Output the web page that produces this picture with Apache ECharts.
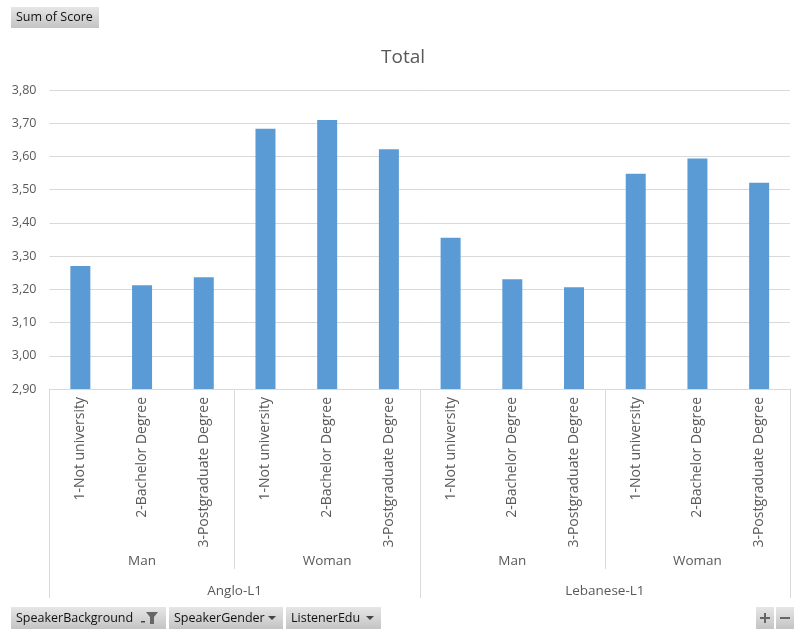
<!DOCTYPE html>
<html><head><meta charset="utf-8">
<script src="https://cdn.jsdelivr.net/npm/echarts@6/dist/echarts.min.js"></script>
<style>html,body{margin:0;padding:0;background:#fff}#c{width:806px;height:637px}</style>
</head><body><div id="c"></div>
<script>
const eduLabels = ['1-Not university','2-Bachelor Degree','3-Postgraduate Degree','1-Not university','2-Bachelor Degree','3-Postgraduate Degree','1-Not university','2-Bachelor Degree','3-Postgraduate Degree','1-Not university','2-Bachelor Degree','3-Postgraduate Degree'];
const genderLabels = ['Man','Woman','Man','Woman'];
const backgroundLabels = ['Anglo-L1','Lebanese-L1'];
const scores = [3.270, 3.212, 3.236, 3.683, 3.710, 3.622, 3.355, 3.230, 3.206, 3.548, 3.594, 3.521];
const yTicks = {min: 2.9, max: 3.8, interval: 0.1};
const titleText = 'Total';

const FONT = '"Open Sans", "Noto Sans", sans-serif';
const TXT = '#595959';
const LINE = '#D9D9D9';

function btnGrad(){
  return new echarts.graphic.LinearGradient(0,0,0,1,[{offset:0,color:'#E6E6E6'},{offset:1,color:'#C4C4C4'}]);
}
function button(x,y,w,h,text){
  return {type:'group', children:[
    {type:'rect', shape:{x:x,y:y,width:w,height:h}, style:{fill:btnGrad()}},
    {type:'text', style:{x:x+5,y:y+h/2,text:text,font:'12.5px '+FONT,fill:'#111',verticalAlign:'middle'}}
  ]};
}
function tri(cx,cy){
  return {type:'polygon', shape:{points:[[cx-4,cy-2],[cx+4,cy-2],[cx,cy+2]]}, style:{fill:'#444'}};
}

const chart = echarts.init(document.getElementById('c'), null, {renderer:'canvas'});
chart.setOption({
  animation:false,
  title:{text:titleText, left:'center', top:43, textStyle:{fontFamily:FONT, fontSize:19, fontWeight:'normal', color:TXT}},
  grid:{left:49.5, right:16, top:90, bottom:248, containLabel:false},
  yAxis:{type:'value', min:yTicks.min, max:yTicks.max, interval:yTicks.interval,
    axisLine:{show:false}, axisTick:{show:false},
    axisLabel:{margin:13, fontFamily:FONT, fontSize:12.5, color:TXT, formatter:v=>v.toFixed(2).replace('.',',')},
    splitLine:{lineStyle:{color:LINE, width:1}}},
  xAxis:[
    {type:'category', data:eduLabels, position:'bottom',
      axisLine:{lineStyle:{color:LINE}}, axisTick:{show:false},
      axisLabel:{rotate:90, margin:8, interval:0, fontFamily:FONT, fontSize:14, color:TXT}},
    {type:'category', data:genderLabels, position:'bottom',
      axisLine:{show:false}, axisTick:{show:true, length:180, lineStyle:{color:LINE}},
      axisLabel:{margin:165, interval:0, fontFamily:FONT, fontSize:13.5, color:TXT, verticalAlign:'top'}},
    {type:'category', data:backgroundLabels, position:'bottom',
      axisLine:{show:false}, axisTick:{show:true, length:209, lineStyle:{color:LINE}},
      axisLabel:{margin:195, interval:0, fontFamily:FONT, fontSize:13.5, color:TXT, verticalAlign:'top'}}
  ],
  series:[{type:'bar', xAxisIndex:0, data:scores, barWidth:20, itemStyle:{color:'#5B9BD5'}}],
  graphic:[
    button(11,7,88,21,'Sum of Score'),
    button(11,607,155,22,'SpeakerBackground'),
    {type:'polygon', shape:{points:[[146,612],[158,612],[154,617],[154,624],[150,624],[150,617]]}, style:{fill:'#666'}},
    {type:'rect', shape:{x:141,y:621,width:4,height:1.5}, style:{fill:'#444'}},
    button(169,607,114,22,'SpeakerGender'),
    tri(272,618),
    button(286,607,95,22,'ListenerEdu'),
    tri(370,618),
    {type:'rect', shape:{x:756,y:607,width:18,height:22}, style:{fill:btnGrad()}},
    {type:'rect', shape:{x:760,y:617,width:10,height:2}, style:{fill:'#666'}},
    {type:'rect', shape:{x:764,y:613,width:2,height:10}, style:{fill:'#666'}},
    {type:'rect', shape:{x:776,y:607,width:18,height:22}, style:{fill:btnGrad()}},
    {type:'rect', shape:{x:780,y:617,width:10,height:2}, style:{fill:'#666'}}
  ]
});
</script></body></html>
